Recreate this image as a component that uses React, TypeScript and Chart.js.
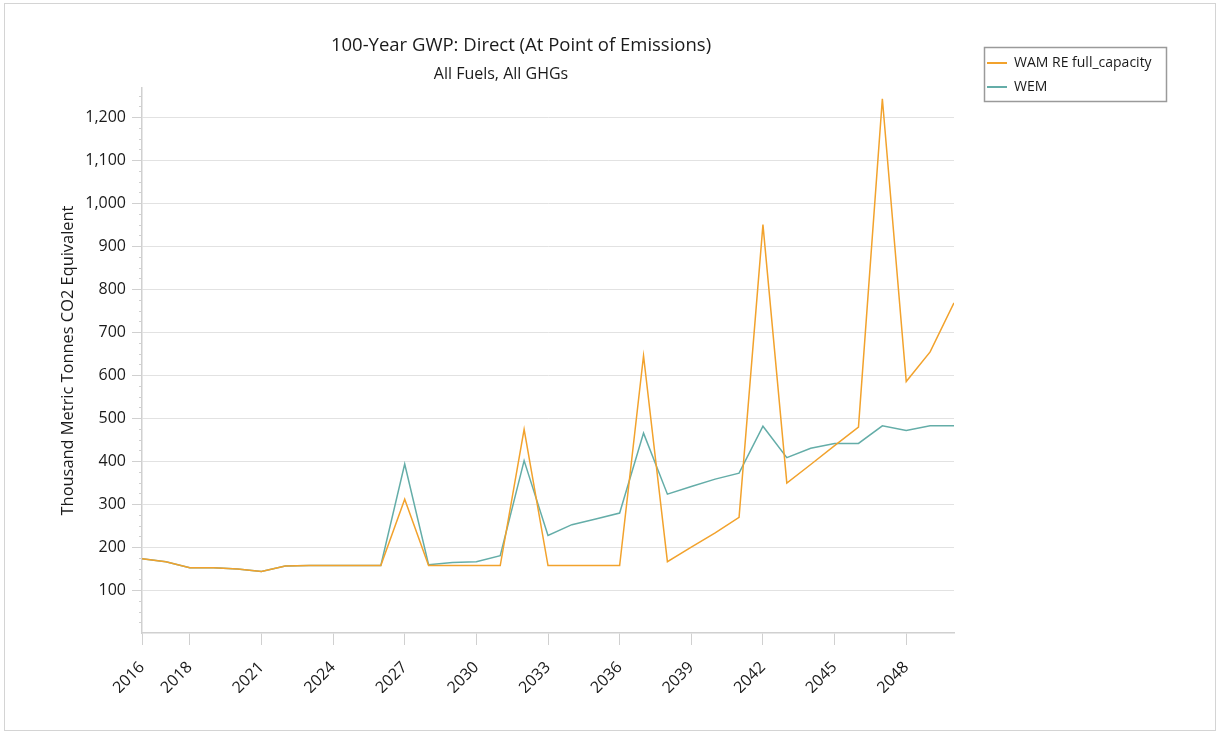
import React, { useEffect, useRef } from "react";
import { Chart, registerables } from "chart.js";

Chart.register(...registerables);

const years = [
  2016, 2017, 2018, 2019, 2020, 2021, 2022, 2023, 2024, 2025, 2026, 2027,
  2028, 2029, 2030, 2031, 2032, 2033, 2034, 2035, 2036, 2037, 2038, 2039,
  2040, 2041, 2042, 2043, 2044, 2045, 2046, 2047, 2048, 2049, 2050,
];

const wamValues = [
  173, 166, 152, 152, 149, 143, 156, 157, 157, 157, 157, 311,
  157, 157, 157, 157, 474, 157, 157, 157, 157, 645, 166, 200,
  233, 269, 950, 349, 392, 436, 479, 1243, 585, 654, 768,
];

const wemValues = [
  173, 166, 152, 152, 149, 143, 156, 157, 157, 157, 157, 393,
  159, 164, 166, 180, 401, 227, 252, 265, 279, 465, 323, 341,
  358, 372, 481, 408, 430, 441, 441, 482, 471, 482, 482,
];

const xTickYears = [2016, 2018, 2021, 2024, 2027, 2030, 2033, 2036, 2039, 2042, 2045, 2048];
const yTickValues = [100, 200, 300, 400, 500, 600, 700, 800, 900, 1000, 1100, 1200];

const seriesNames = ["WAM RE full_capacity", "WEM"];
const seriesColors = ["#F2A22C", "#64ADA8"];

const titleText = "100-Year GWP: Direct (At Point of Emissions)";
const subtitleText = "All Fuels, All GHGs";
const yAxisTitle = "Thousand Metric Tonnes CO2 Equivalent";

const FONT = "'Open Sans', 'Noto Sans', 'DejaVu Sans', sans-serif";
const TEXT = "#1a1a1a";

const decorPlugin = {
  id: "decor",
  afterDraw(chart: any) {
    const ctx = chart.ctx as CanvasRenderingContext2D;
    const area = chart.chartArea;
    const yScale = chart.scales.y;
    ctx.save();

    // titles
    ctx.fillStyle = TEXT;
    ctx.textAlign = "center";
    ctx.textBaseline = "middle";
    ctx.font = `18.5px ${FONT}`;
    ctx.fillText(titleText, 521, 46);
    ctx.font = `16px ${FONT}`;
    ctx.fillText(subtitleText, 501, 74);

    // minor y ticks
    ctx.strokeStyle = "#d0d0d0";
    ctx.lineWidth = 1;
    for (let v = 25; v <= yScale.max; v += 25) {
      if (v % 100 === 0) continue;
      const py = Math.round(yScale.getPixelForValue(v)) + 0.5;
      ctx.beginPath();
      ctx.moveTo(area.left - 3, py);
      ctx.lineTo(area.left, py);
      ctx.stroke();
    }

    // legend
    const bx = 984.5, by = 47.5, bw = 182, bh = 54;
    ctx.strokeStyle = "#9a9a9a";
    ctx.lineWidth = 1.5;
    ctx.strokeRect(bx, by, bw, bh);
    ctx.textAlign = "left";
    ctx.font = `14px ${FONT}`;
    chart.data.datasets.forEach((ds: any, i: number) => {
      const ly = 63 + i * 24;
      ctx.strokeStyle = ds.borderColor;
      ctx.lineWidth = 2;
      ctx.beginPath();
      ctx.moveTo(987, ly);
      ctx.lineTo(1007, ly);
      ctx.stroke();
      ctx.fillStyle = TEXT;
      ctx.fillText(ds.label, 1014, ly);
    });

    ctx.restore();
  },
};

export default function App() {
  const canvasRef = useRef<HTMLCanvasElement>(null);

  useEffect(() => {
    const canvas = canvasRef.current;
    if (!canvas) return;
    const series = [wamValues, wemValues];
    const chart = new Chart(canvas, {
      type: "line",
      data: {
        datasets: series.map((vals, i) => ({
          label: seriesNames[i],
          data: years.map((yr, j) => ({ x: yr, y: vals[j] })),
          borderColor: seriesColors[i],
          backgroundColor: seriesColors[i],
          borderWidth: 1.5,
          pointRadius: 0,
          tension: 0,
          fill: false,
        })),
      },
      options: {
        responsive: false,
        animation: false,
        layout: { padding: { left: 54, right: 262, top: 88, bottom: 38 } },
        plugins: {
          legend: { display: false },
          title: { display: false },
          tooltip: { enabled: false },
        },
        scales: {
          x: {
            type: "linear",
            min: 2016,
            max: 2050,
            afterBuildTicks: (s: any) => {
              s.ticks = xTickYears.map((v) => ({ value: v }));
            },
            afterFit: (s: any) => {
              s.height = 60;
            },
            grid: {
              display: true,
              drawOnChartArea: false,
              drawTicks: true,
              tickLength: 12,
              tickColor: "#d0d0d0",
            },
            border: { color: "#d0d0d0", width: 1.5 },
            ticks: {
              minRotation: 45,
              maxRotation: 45,
              autoSkip: false,
              padding: 13,
              color: TEXT,
              font: { family: FONT, size: 16 },
              callback: (v: any) => String(v),
            },
          },
          y: {
            type: "linear",
            min: 0,
            max: 1268,
            afterBuildTicks: (s: any) => {
              s.ticks = yTickValues.map((v) => ({ value: v }));
            },
            afterFit: (s: any) => {
              s.width = 88;
            },
            grid: {
              color: "#e2e2e2",
              tickColor: "#d0d0d0",
              tickLength: 10,
              drawTicks: true,
            },
            border: { color: "#d0d0d0", width: 1.5 },
            ticks: {
              padding: 6,
              color: TEXT,
              font: { family: FONT, size: 16 },
              callback: (v: any) => Number(v).toLocaleString("en-US"),
            },
            title: {
              display: true,
              text: yAxisTitle,
              color: TEXT,
              font: { family: FONT, size: 16.4 },
              padding: { top: 4, bottom: 4 },
            },
          },
        },
      },
      plugins: [decorPlugin],
    });
    return () => chart.destroy();
  }, []);

  return (
    <div style={{ position: "fixed", left: 0, top: 0, width: 1216, height: 731, background: "#ffffff" }}>
      <div
        style={{
          position: "absolute",
          left: 4,
          top: 3,
          width: 1212,
          height: 728,
          border: "1px solid #d4d4d4",
          boxSizing: "border-box",
        }}
      />
      <canvas ref={canvasRef} width={1216} height={731} style={{ position: "absolute", left: 0, top: 0 }} />
    </div>
  );
}
